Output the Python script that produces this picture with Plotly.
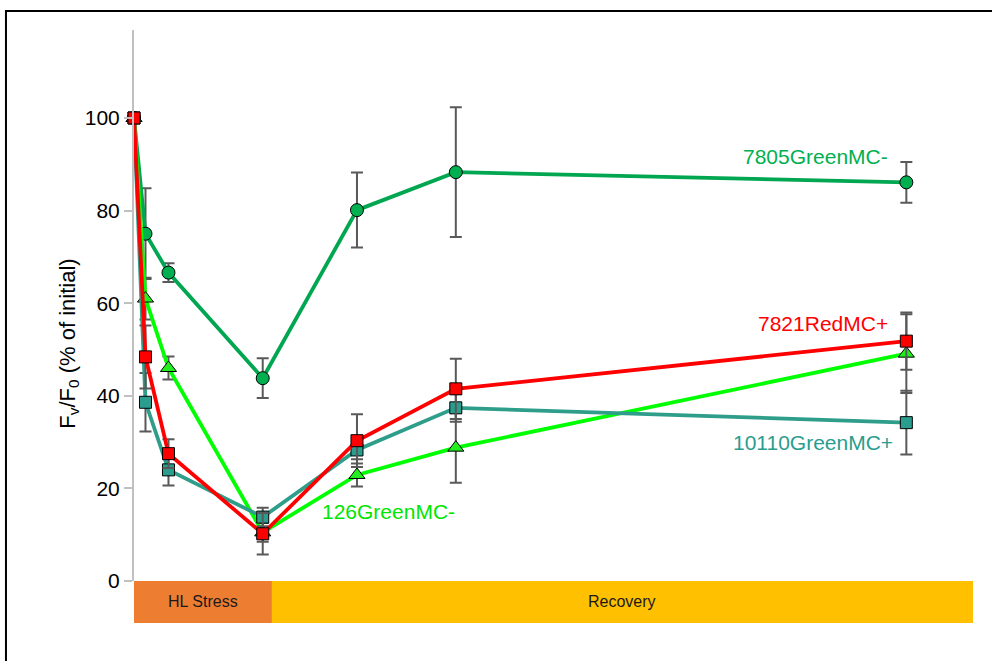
import plotly.graph_objects as go

# time points (minutes) and values (% of initial Fv/F0)
times = [0, 5, 15, 56, 97, 140, 336]

s7805_y = [100, 75.0, 66.6, 43.8, 80.1, 88.3, 86.1]
s7805_e = [0, 9.8, 2.0, 4.3, 8.1, 14.0, 4.4]

s10110_y = [100, 38.6, 24.0, 13.8, 28.3, 37.4, 34.2]
s10110_e = [0, 6.3, 3.4, 2.0, 2.0, 3.0, 6.9]

s126_y = [100, 61.0, 46.0, 10.5, 22.9, 28.8, 49.1]
s126_e = [0, 4.5, 2.5, 2.0, 2.5, 7.6, 8.5]

s7821_y = [100, 48.4, 27.5, 10.2, 30.3, 41.5, 51.8]
s7821_e = [0, 6.8, 3.1, 4.5, 5.7, 6.5, 6.2]

phases = ["HL Stress", "Recovery"]
phase_start = [0, 60]
phase_end = [60, 365]
phase_colors = ["#ED7D31", "#FFC000"]

y_ticks = [0, 20, 40, 60, 80, 100]

FONT = "Liberation Sans, Arial, sans-serif"
ERR_COLOR = "#595959"

fig = go.Figure()

def add_series(y, e, line_color, marker_color, symbol, size, name):
    fig.add_trace(go.Scatter(
        x=times, y=y, name=name, mode="lines+markers", cliponaxis=False,
        line=dict(color=line_color, width=3.8),
        marker=dict(symbol=symbol, size=size, color=marker_color,
                    line=dict(color="#000000", width=1)),
        error_y=dict(type="data", array=e, visible=True,
                     color=ERR_COLOR, thickness=2, width=6),
        showlegend=False,
    ))

add_series(s7805_y, s7805_e, "#00A650", "#00B050", "circle", 13, "7805GreenMC-")
add_series(s126_y, s126_e, "#00FF00", "#22EE22", "triangle-up", 14, "126GreenMC-")
add_series(s10110_y, s10110_e, "#2E9E8A", "#2A9D8F", "square", 12, "10110GreenMC+")
add_series(s7821_y, s7821_e, "#FF0000", "#FF0000", "square", 12, "7821RedMC+")

# phase bars below the axis
for name, x0, x1, col in zip(phases, phase_start, phase_end, phase_colors):
    fig.add_shape(type="rect", xref="x", yref="paper", x0=x0, x1=x1,
                  y0=-0.0762, y1=0, fillcolor=col, line=dict(width=0),
                  layer="above")
    fig.add_annotation(x=(x0 + x1) / 2, y=-0.0381, xref="x", yref="paper",
                       text=name, showarrow=False, yanchor="middle",
                       font=dict(family=FONT, size=16, color="#1a1a1a"))

# outer frame
fig.add_shape(type="rect", xref="paper", yref="paper",
              x0=-0.1526, x1=1.2, y0=-0.3, y1=1.0345,
              line=dict(color="#000000", width=2), fillcolor="rgba(0,0,0,0)")

# series labels
labels = [
    ("7805GreenMC-", 329, 91.6, "right", "#00B050"),
    ("7821RedMC+", 329, 55.7, "right", "#FF0000"),
    ("10110GreenMC+", 331, 30.0, "right", "#2A9D8F"),
    ("126GreenMC-", 110.5, 15.0, "center", "#00E600"),
]
for txt, x, y, xa, col in labels:
    fig.add_annotation(x=x, y=y, xref="x", yref="y", text=txt, showarrow=False,
                       xanchor=xa, yanchor="middle",
                       font=dict(family=FONT, size=21, color=col))

# y-axis title
fig.add_annotation(x=-0.097, y=0.43, xref="paper", yref="paper",
                   text="F<sub>v</sub>/F<sub>0</sub> (% of initial)",
                   textangle=-90, showarrow=False,
                   font=dict(family=FONT, size=22, color="#000000"))

fig.update_layout(
    width=992, height=661,
    margin=dict(l=134, r=19, t=30, b=80),
    paper_bgcolor="white", plot_bgcolor="white",
    xaxis=dict(range=[0, 365], visible=False, showgrid=False, zeroline=False),
    yaxis=dict(range=[0, 119], tickvals=y_ticks, ticks="outside", ticklen=8,
               tickwidth=2, tickcolor="#C0C0C0", showline=True,
               linecolor="#C0C0C0", linewidth=2, showgrid=False,
               zeroline=False,
               tickfont=dict(family=FONT, size=21, color="#000000")),
)

fig.write_html("out.html",
               config={"displayModeBar": False},
               post_script="document.body.style.margin='0';"
                           "document.body.style.overflow='hidden';")
